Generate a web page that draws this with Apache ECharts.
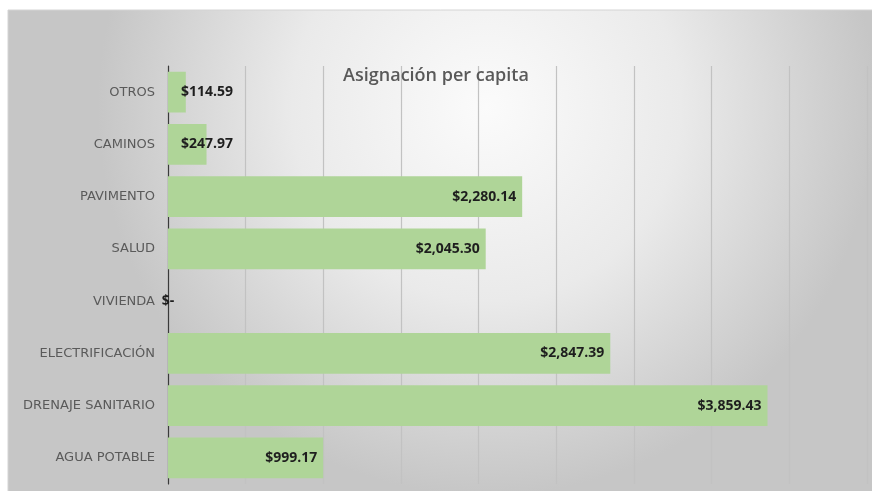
<!DOCTYPE html>
<html>
<head>
<meta charset="utf-8">
<script src="https://cdn.jsdelivr.net/npm/echarts@6/dist/echarts.min.js"></script>
<style>
  html, body { margin: 0; padding: 0; background: #ffffff; }
  #chart { width: 872px; height: 491px; }
</style>
</head>
<body>
<div id="chart"></div>
<script>
// Program categories, listed bottom to top
const categories = [
  'AGUA POTABLE',
  'DRENAJE SANITARIO',
  'ELECTRIFICACIÓN',
  'VIVIENDA',
  'SALUD',
  'PAVIMENTO',
  'CAMINOS',
  'OTROS'
];

// Per-capita allocation (pesos)
const perCapita = [999.17, 3859.43, 2847.39, 0, 2045.30, 2280.14, 247.97, 114.59];

const titleText = 'Asignación per capita';

// Value axis range (no tick labels are drawn, only gridlines)
const axisMin = 0;
const axisMax = 4500;
const axisStep = 500;

function money(v) {
  if (v === 0) return '$-';
  return '$' + v.toLocaleString('en-US', { minimumFractionDigits: 2, maximumFractionDigits: 2 });
}

// Short bars get the label at the start; zero gets it on the axis
function labelFor(v) {
  if (v === 0) return { position: 'inside' };
  if (v < 500) return { position: 'insideLeft', distance: 13 };
  return { position: 'insideRight', distance: 6 };
}

const chart = echarts.init(document.getElementById('chart'), null, { renderer: 'canvas' });

chart.setOption({
  backgroundColor: '#ffffff',
  animation: false,
  graphic: [
    {
      type: 'rect',
      z: -10,
      silent: true,
      shape: { x: 8, y: 10, width: 870, height: 485 },
      style: {
        fill: new echarts.graphic.RadialGradient(0.55, 0.2, 0.8, [
          { offset: 0, color: '#fbfbfb' },
          { offset: 0.5, color: '#eaeaea' },
          { offset: 1, color: '#c6c6c6' }
        ]),
        stroke: '#d4d4d4',
        lineWidth: 1
      }
    }
  ],
  title: {
    text: titleText,
    left: 'center',
    top: 62,
    textStyle: {
      fontFamily: 'Open Sans',
      fontSize: 18,
      fontWeight: 600,
      color: '#595959'
    }
  },
  grid: { left: 168, right: 5, top: 66, bottom: 7, containLabel: false },
  xAxis: {
    type: 'value',
    min: axisMin,
    max: axisMax,
    interval: axisStep,
    axisLine: { show: false },
    axisTick: { show: false },
    axisLabel: { show: false },
    splitLine: { show: true, lineStyle: { color: '#c2c2c2', width: 1.2 } }
  },
  yAxis: {
    type: 'category',
    data: categories,
    axisLine: { show: true, lineStyle: { color: '#3a3a3a', width: 1.2 } },
    axisTick: { show: false },
    axisLabel: {
      margin: 13,
      fontFamily: 'DejaVu Sans',
      fontSize: 13,
      color: '#5a5a5a'
    }
  },
  series: [
    {
      type: 'bar',
      data: perCapita.map(v => ({ value: v, label: labelFor(v) })),
      barCategoryGap: '22%',
      itemStyle: { color: '#afd598' },
      label: {
        show: true,
        formatter: p => money(p.value),
        fontFamily: 'Open Sans',
        fontSize: 14,
        fontWeight: 'bold',
        color: '#1e1e1e'
      }
    }
  ]
});
</script>
</body>
</html>
